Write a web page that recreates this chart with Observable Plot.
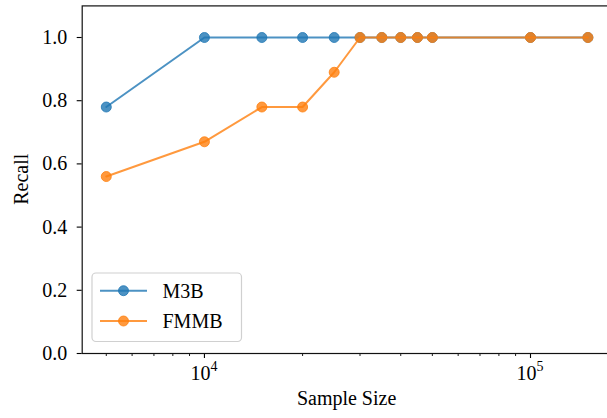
<!DOCTYPE html>
<html>
<head>
<meta charset="utf-8">
<script src="https://cdn.jsdelivr.net/npm/d3@7"></script>
<script src="https://cdn.jsdelivr.net/npm/@observablehq/plot@0.6"></script>
<style>
  html, body { margin: 0; padding: 0; background: white; }
  #chart { width: 607px; height: 418px; overflow: hidden; }
</style>
</head>
<body>
<div id="chart"></div>
<script>
// ---- data ----
const sampleSizes = [5000, 10000, 15000, 20000, 25000, 30000, 35000, 40000, 45000, 50000, 100000, 150000];
const recallM3B  = [0.78, 1.0, 1.0, 1.0, 1.0, 1.0, 1.0, 1.0, 1.0, 1.0, 1.0, 1.0];
const recallFMMB = [0.56, 0.67, 0.78, 0.78, 0.89, 1.0, 1.0, 1.0, 1.0, 1.0, 1.0, 1.0];
const seriesNames = ["M3B", "FMMB"];
const seriesColors = ["#1f77b4", "#ff7f0e"];
const yTicks = [0, 0.2, 0.4, 0.6, 0.8, 1.0];
const xMajorTicks = [1e4, 1e5];
const xMinorTicks = [5000, 6000, 7000, 8000, 9000, 20000, 30000, 40000, 50000, 60000, 70000, 80000, 90000];
const xLabel = "Sample Size";
const yLabel = "Recall";

const m3bData = sampleSizes.map((x, i) => ({x, y: recallM3B[i]}));
const fmmbData = sampleSizes.map((x, i) => ({x, y: recallFMMB[i]}));

const FONT = "Liberation Serif, DejaVu Serif, Noto Serif, serif";
const W = 607, H = 418;
const mL = 81.7, mR = -4.5, mT = 5.4, mB = 65;

function seriesMarks(data, color) {
  return [
    Plot.line(data, {x: "x", y: "y", stroke: color, strokeOpacity: 0.8, strokeWidth: 2}),
    Plot.dot(data, {x: "x", y: "y", r: 5, fill: color, fillOpacity: 0.8, stroke: color, strokeOpacity: 0.8, strokeWidth: 1})
  ];
}

const chart = Plot.plot({
  width: W, height: H,
  marginLeft: mL, marginRight: mR, marginTop: mT, marginBottom: mB,
  x: {type: "log", domain: [Math.pow(10, 3.625114), Math.pow(10, 5.249946)]},
  y: {domain: [0, 1.1]},
  style: {fontFamily: FONT, fontSize: "20px", background: "white", color: "black"},
  marks: [
    Plot.axisY({ticks: yTicks, tickFormat: d => d.toFixed(1), tickSize: 5, tickPadding: 10, label: null, fontSize: 20, strokeWidth: 1.1}),
    Plot.axisX({ticks: xMinorTicks, tickSize: 3, tickFormat: () => "", label: null, strokeWidth: 0.9}),
    Plot.axisX({ticks: xMajorTicks, tickSize: 5, tickFormat: () => "", label: null, strokeWidth: 1.1}),
    Plot.text(xMajorTicks, {x: d => d, text: () => "10", frameAnchor: "bottom", textAnchor: "end", lineAnchor: "bottom", dx: 6, dy: 26, fontSize: 20, fill: "black"}),
    Plot.text(xMajorTicks, {x: d => d, text: d => String(Math.round(Math.log10(d))), frameAnchor: "bottom", textAnchor: "start", lineAnchor: "bottom", dx: 6, dy: 17, fontSize: 14, fill: "black"}),
    ...seriesMarks(m3bData, seriesColors[0]),
    ...seriesMarks(fmmbData, seriesColors[1]),
    Plot.frame({stroke: "#111", strokeWidth: 1.2})
  ]
});

document.getElementById("chart").appendChild(chart);

// ---- axis titles & legend ----
const svg = d3.select(chart);
const plotCenterX = (mL + (W - mR)) / 2;
const plotCenterY = (mT + (H - mB)) / 2;

svg.append("text")
  .attr("x", plotCenterX).attr("y", 405)
  .attr("text-anchor", "middle")
  .attr("font-family", FONT).attr("font-size", 20).attr("fill", "black")
  .text(xLabel);

svg.append("text")
  .attr("transform", `translate(28,${plotCenterY}) rotate(-90)`)
  .attr("text-anchor", "middle")
  .attr("font-family", FONT).attr("font-size", 20).attr("fill", "black")
  .text(yLabel);

const lg = svg.append("g");
lg.append("rect")
  .attr("x", 92).attr("y", 273).attr("width", 149.5).attr("height", 68.5)
  .attr("rx", 4).attr("fill", "white").attr("fill-opacity", 0.8)
  .attr("stroke", "#d0d0d0").attr("stroke-width", 1.2);
seriesNames.forEach((name, i) => {
  const cy = 290.7 + i * 30.3;
  const c = seriesColors[i];
  lg.append("line").attr("x1", 100).attr("x2", 147).attr("y1", cy).attr("y2", cy)
    .attr("stroke", c).attr("stroke-opacity", 0.8).attr("stroke-width", 2);
  lg.append("circle").attr("cx", 123.5).attr("cy", cy).attr("r", 5)
    .attr("fill", c).attr("fill-opacity", 0.8).attr("stroke", c).attr("stroke-opacity", 0.8);
  lg.append("text").attr("x", 162.5).attr("y", cy + 7)
    .attr("text-anchor", "start")
    .attr("font-family", FONT).attr("font-size", 20).attr("fill", "black")
    .text(name);
});
</script>
</body>
</html>
